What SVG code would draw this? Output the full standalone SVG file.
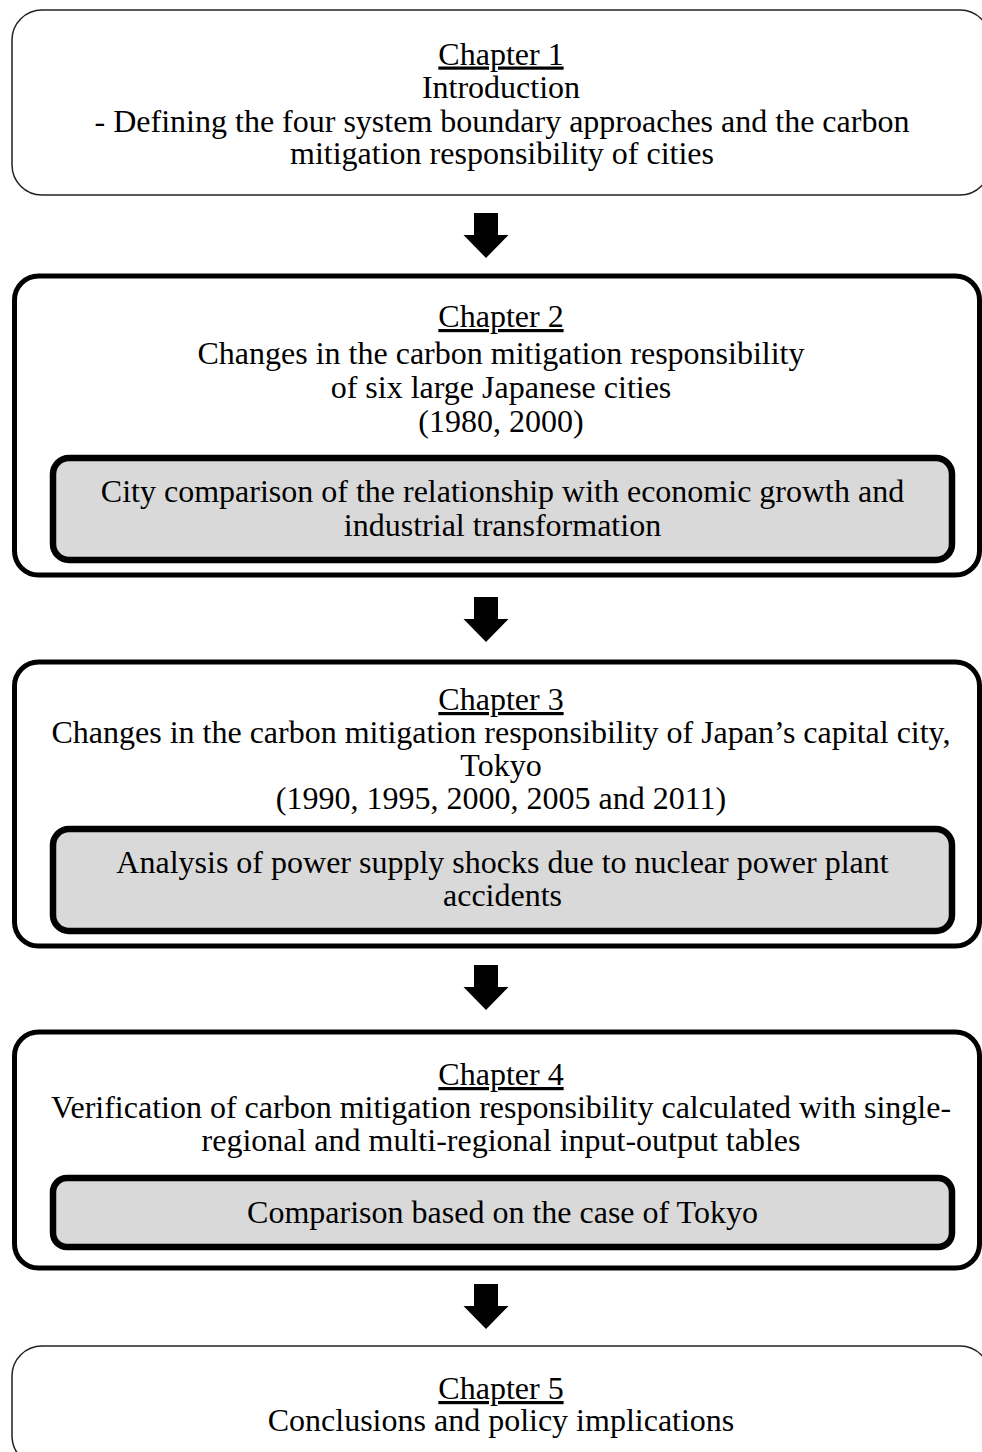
<svg xmlns="http://www.w3.org/2000/svg" width="982" height="1452" viewBox="0 0 982 1452">
<style>
text{font-family:"Liberation Serif","Times New Roman",serif;font-size:32px;fill:#000;text-anchor:middle}
.u{text-decoration:underline}
.thin{fill:#fff;stroke:#222;stroke-width:1.5}
.outer{fill:#fff;stroke:#000;stroke-width:5}
.inner{fill:#d9d9d9;stroke:#000;stroke-width:6.5}
.arr{fill:#000}
</style>
<defs>
<path id="arrow" d="M-12,0 H12 V22 H22.5 L0,45 L-22.5,22 H-12 Z"/>
</defs>
<rect width="982" height="1452" fill="#fff"/>
<g id="ch1">
<rect class="thin" x="12" y="10" width="978" height="185" rx="30"/>
<text x="501" y="64.5" class="u">Chapter 1</text>
<text x="501" y="97.5">Introduction</text>
<text x="502" y="131.5">- Defining the four system boundary approaches and the carbon</text>
<text x="502" y="164">mitigation responsibility of cities</text>
</g>
<g id="ch2">
<rect class="outer" x="14.5" y="276" width="965" height="299" rx="24"/>
<text x="501" y="327" class="u">Chapter 2</text>
<text x="501" y="364">Changes in the carbon mitigation responsibility</text>
<text x="501" y="398">of six large Japanese cities</text>
<text x="501" y="432">(1980, 2000)</text>
</g>
<g id="ch2-sub">
<rect class="inner" x="53" y="458" width="899" height="102" rx="16"/>
<text x="502.5" y="502">City comparison of the relationship with economic growth and</text>
<text x="502.5" y="536">industrial transformation</text>
</g>
<g id="ch3">
<rect class="outer" x="14.5" y="662" width="965" height="284" rx="24"/>
<text x="501" y="710" class="u">Chapter 3</text>
<text x="501" y="743">Changes in the carbon mitigation responsibility of Japan’s capital city,</text>
<text x="501" y="776">Tokyo</text>
<text x="501" y="809">(1990, 1995, 2000, 2005 and 2011)</text>
</g>
<g id="ch3-sub">
<rect class="inner" x="53" y="829" width="899" height="102" rx="16"/>
<text x="502.5" y="873">Analysis of power supply shocks due to nuclear power plant</text>
<text x="502.5" y="906">accidents</text>
</g>
<g id="ch4">
<rect class="outer" x="14.5" y="1032" width="965" height="236" rx="24"/>
<text x="501" y="1085" class="u">Chapter 4</text>
<text x="501" y="1118">Verification of carbon mitigation responsibility calculated with single-</text>
<text x="501" y="1151">regional and multi-regional input-output tables</text>
</g>
<g id="ch4-sub">
<rect class="inner" x="53" y="1178" width="899" height="69" rx="14"/>
<text x="502.5" y="1223">Comparison based on the case of Tokyo</text>
</g>
<g id="ch5">
<rect class="thin" x="12" y="1346" width="978" height="120" rx="30"/>
<text x="501" y="1399" class="u">Chapter 5</text>
<text x="501" y="1431">Conclusions and policy implications</text>
</g>
<g id="connectors">
<use href="#arrow" class="arr" x="486" y="213"/>
<use href="#arrow" class="arr" x="486" y="597"/>
<use href="#arrow" class="arr" x="486" y="965"/>
<use href="#arrow" class="arr" x="486" y="1284"/>
</g>
</svg>
